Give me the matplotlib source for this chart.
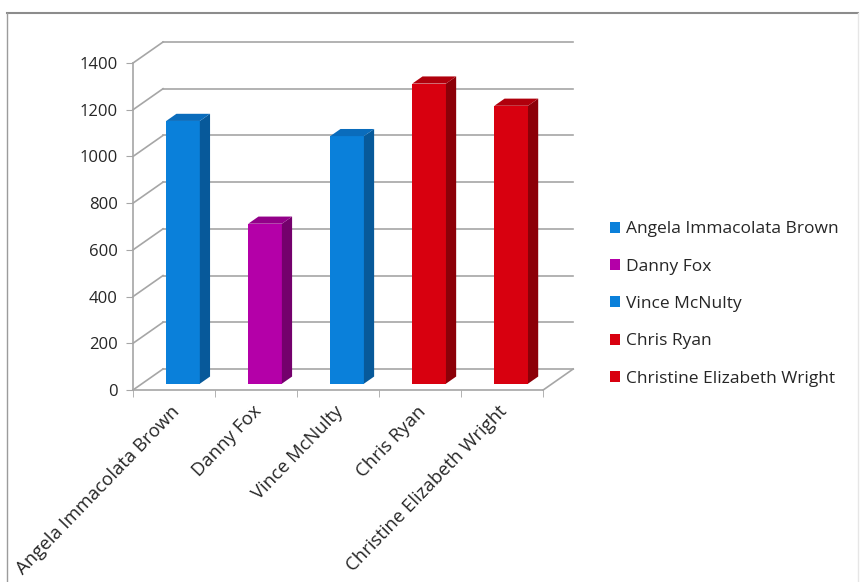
import matplotlib
matplotlib.use("Agg")
import matplotlib.pyplot as plt
import matplotlib.transforms as mtransforms
from matplotlib.patches import Polygon, Patch
from matplotlib.lines import Line2D

plt.rcParams['font.family'] = ['Open Sans', 'DejaVu Sans']

# ---- data ----
names = ["Angela Immacolata Brown", "Danny Fox", "Vince McNulty", "Chris Ryan",
         "Christine Elizabeth Wright"]
values = [1125, 685, 1060, 1285, 1190]
front_colors = ["#0A80DA", "#B400A8", "#0A80DA", "#D8000F", "#D8000F"]
side_colors = ["#07599A", "#74006C", "#07599A", "#8C0008", "#8C0008"]
top_colors = ["#0A6CBC", "#930089", "#0A6CBC", "#B0000C", "#B0000C"]
yticks = [0, 200, 400, 600, 800, 1000, 1200, 1400]

# ---- projection parameters (oblique 3D look) ----
DX, DY = 0.366, 90.0      # full-depth offset in data units
D0, D1 = 0.30, 0.64        # bar front/back depth fractions
BW = 0.41                  # bar width
GRID = "#A6A6A6"
TXT = "#262626"

W, H = 861, 582
fig = plt.figure(figsize=(W / 100, H / 100), dpi=100)
ax = fig.add_axes([133 / W, 1 - 390 / H, 443 / W, 355 / H])
ax.set_xlim(-0.5, 4.9)
ax.set_ylim(0, 1520)
ax.patch.set_alpha(0)

n = len(names)
x0, x1 = -0.5, n - 0.5

# back wall gridlines and left wall diagonals
for v in yticks:
    ax.plot([x0 + DX, x1 + DX], [v + DY, v + DY], color=GRID, lw=1.2,
            clip_on=False, zorder=1)
    ax.plot([x0, x0 + DX], [v, v + DY], color=GRID, lw=1.2,
            clip_on=False, zorder=1)
# floor right edge
ax.plot([x1, x1 + DX], [0, DY], color=GRID, lw=1.2, clip_on=False, zorder=1)

# bars
for i, (v, fc, sc, tc) in enumerate(zip(values, front_colors, side_colors, top_colors)):
    xl = i - BW / 2 + D0 * DX
    xr = i + BW / 2 + D0 * DX
    yb = D0 * DY
    ax.bar(i + D0 * DX, v, width=BW, bottom=yb, color=fc, zorder=3)
    dx = (D1 - D0) * DX
    dy = (D1 - D0) * DY
    side = Polygon([(xr, yb), (xr + dx, yb + dy), (xr + dx, yb + v + dy), (xr, yb + v)],
                   closed=True, facecolor=sc, edgecolor='none', zorder=3)
    top = Polygon([(xl, yb + v), (xr, yb + v), (xr + dx, yb + v + dy), (xl + dx, yb + v + dy)],
                  closed=True, facecolor=tc, edgecolor='none', zorder=3)
    ax.add_patch(side)
    ax.add_patch(top)

# axes styling
for s in ['top', 'right']:
    ax.spines[s].set_visible(False)
ax.spines['left'].set_bounds(0, 1400)
ax.spines['bottom'].set_bounds(x0, x1)
ax.spines['left'].set_color(GRID)
ax.spines['bottom'].set_color(GRID)
ax.spines['left'].set_linewidth(1.2)
ax.spines['bottom'].set_linewidth(1.2)

ax.set_yticks(yticks)
ax.set_yticklabels([str(t) for t in yticks])
ax.tick_params(axis='y', length=5, color=GRID, labelsize=12, pad=6,
               labelcolor=TXT)
ax.set_xticks(range(n))
ax.set_xticklabels(names, rotation=46, ha='right', rotation_mode='anchor')
ax.set_xticks([x0 + k for k in range(n + 1)], minor=True)
ax.tick_params(axis='x', which='major', length=0, labelsize=13.3, pad=9,
               labelcolor=TXT)
ax.tick_params(axis='x', which='minor', length=5, color=GRID)
shift = mtransforms.ScaledTranslation(-4 / 100, 0, fig.dpi_scale_trans)
for lab in ax.get_xticklabels():
    lab.set_transform(lab.get_transform() + shift)

# legend
handles = [Patch(facecolor=c, edgecolor='none') for c in front_colors]
fig.legend(handles, names, loc='center left', bbox_to_anchor=(610 / W, 1 - 304 / H),
           frameon=False, fontsize=12.5, handlelength=0.58, handleheight=0.58,
           handletextpad=0.35, labelspacing=1.23, borderpad=0, borderaxespad=0,
           labelcolor=TXT)

# chart border
fig.add_artist(Line2D([7 / W, 858 / W], [1 - 13 / H, 1 - 13 / H], color="#8C8C8C", lw=1.5))
fig.add_artist(Line2D([7 / W, 7 / W], [1 - 13 / H, 0], color="#9C9C9C", lw=1.0))
fig.add_artist(Line2D([858 / W, 858 / W], [1 - 13 / H, 0], color="#E6E6E6", lw=1.0))

fig.savefig("out.png", dpi=100)
